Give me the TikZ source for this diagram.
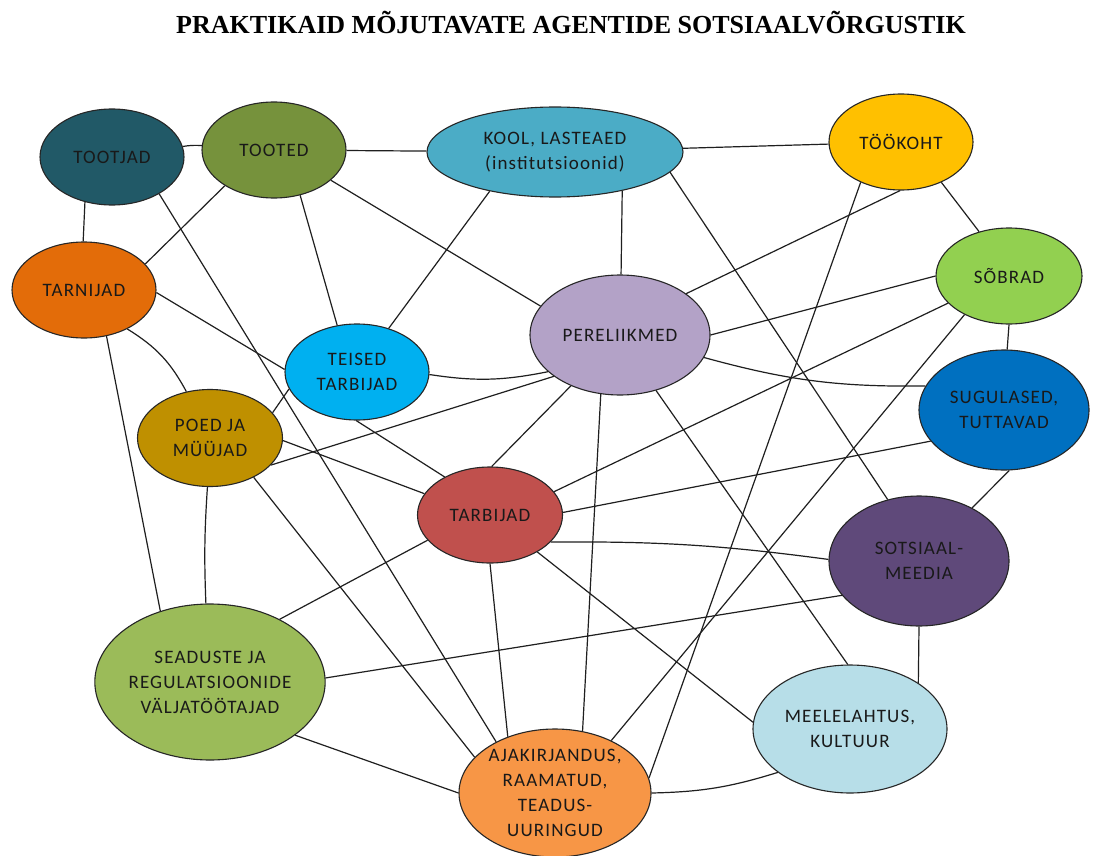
\documentclass[tikz,border=0pt]{standalone}
\usepackage{fontspec}
\setmainfont{Liberation Serif}
\newfontfamily\nodefont[LetterSpace=6]{Carlito}
\usetikzlibrary{shapes.geometric}
\definecolor{cTootjad}{HTML}{215967}
\definecolor{cTooted}{HTML}{76923C}
\definecolor{cKool}{HTML}{4BACC6}
\definecolor{cTook}{HTML}{FFC000}
\definecolor{cTarn}{HTML}{E36C09}
\definecolor{cSob}{HTML}{92D050}
\definecolor{cPere}{HTML}{B3A2C7}
\definecolor{cTeised}{HTML}{00B0F0}
\definecolor{cSug}{HTML}{0070C0}
\definecolor{cPoed}{HTML}{BF9000}
\definecolor{cTarb}{HTML}{C0504D}
\definecolor{cSots}{HTML}{5F497A}
\definecolor{cSead}{HTML}{9BBB59}
\definecolor{cMeel}{HTML}{B7DEE8}
\definecolor{cAjak}{HTML}{F79646}
\pgfdeclarelayer{bg}
\pgfsetlayers{bg,main}
\begin{document}
\begin{tikzpicture}[x=1pt,y=-1pt,
  agent/.style={ellipse, draw=black!85, line width=1.1pt, inner sep=0pt, align=center,
    font=\nodefont\fontsize{19}{25}\selectfont, text=black!90},
  link/.style={draw=black!88, line width=1.2pt}]
\useasboundingbox (0,0) rectangle (1100,856);
\node[font=\bfseries\fontsize{26}{30}\selectfont] (title) at (571,23) {PRAKTIKAID MÕJUTAVATE AGENTIDE SOTSIAALVÕRGUSTIK};
\node[agent, fill=cTootjad, minimum width=144pt, minimum height=96pt] (tootjad) at (112,157) {TOOTJAD};
\node[agent, fill=cTooted, minimum width=144pt, minimum height=96pt] (tooted) at (274,150) {TOOTED};
\node[agent, fill=cKool, minimum width=256pt, minimum height=90pt] (kool) at (555,152) {KOOL, LASTEAED\\(institutsioonid)};
\node[agent, fill=cTook, minimum width=144pt, minimum height=96pt] (tookoht) at (901,142) {TÖÖKOHT};
\node[agent, fill=cTarn, minimum width=144pt, minimum height=96pt] (tarn) at (84,290) {TARNIJAD};
\node[agent, fill=cSob, minimum width=146pt, minimum height=96pt] (sobrad) at (1009,276) {SÕBRAD};
\node[agent, fill=cPere, minimum width=180pt, minimum height=120pt] (pere) at (620,335) {PERELIIKMED};
\node[agent, fill=cTeised, minimum width=144pt, minimum height=96pt] (teised) at (357,372) {TEISED\\TARBIJAD};
\node[agent, fill=cSug, minimum width=170pt, minimum height=120pt] (sug) at (1004,410) {SUGULASED,\\TUTTAVAD};
\node[agent, fill=cPoed, minimum width=145pt, minimum height=97pt] (poed) at (210,438) {POED JA\\MÜÜJAD};
\node[agent, fill=cTarb, minimum width=145pt, minimum height=96pt] (tarb) at (490,515) {TARBIJAD};
\node[agent, fill=cSots, minimum width=180pt, minimum height=130pt] (sots) at (919,561) {SOTSIAAL-\\MEEDIA};
\node[agent, fill=cSead, minimum width=230pt, minimum height=156pt] (sead) at (210,682) {SEADUSTE JA\\REGULATSIOONIDE\\VÄLJATÖÖTAJAD};
\node[agent, fill=cMeel, minimum width=194pt, minimum height=128pt] (meel) at (850,729) {MEELELAHTUS,\\KULTUUR};
\node[agent, fill=cAjak, minimum width=192pt, minimum height=128pt] (ajak) at (555,793) {AJAKIRJANDUS,\\RAAMATUD,\\TEADUS-\\UURINGUD};
\begin{pgfonlayer}{bg}
\fill[white] (0,0) rectangle (1100,856);
\draw[link] (tootjad) to[bend left=6] (tooted);
\draw[link] (tootjad.239) -- (tarn.91);
\draw[link] (tootjad.-38) -- (ajak.139);
\draw[link] (tooted) -- (kool);
\draw[link] (tooted.216) -- (tarn.23);
\draw[link] (tooted.-60) -- (teised.113);
\draw[link] (tooted.-28) -- (pere.160);
\draw[link] (kool) -- (tookoht);
\draw[link] (kool.211) -- (teised.54);
\draw[link] (kool.-30) -- (pere.89);
\draw[link] (kool.-10) -- (sots.117);
\draw[link] (tookoht.-45) -- (sobrad.124);
\draw[link] (tookoht.269) -- (pere.32);
\draw[link] (tookoht.225) -- (ajak.9);
\draw[link] (sobrad.180) -- (pere.0);
\draw[link] (sobrad.270) -- (sug.87);
\draw[link] (sobrad.204) -- (tarb.20);
\draw[link] (sobrad.221) -- (ajak.43);
\draw[link] (teised.-2) to[bend right=10] (pere.207);
\draw[link] (pere.-15) to[bend right=8] (sug.163);
\draw[link] (pere.212) -- (poed.-24);
\draw[link] (pere.226) -- (tarb.88);
\draw[link] (pere.252) -- (ajak.66);
\draw[link] (pere.-57) -- (meel.92);
\draw[link] (tarn.-2) -- (teised.178);
\draw[link] (tarn.-42) to[bend left=15] (poed.117);
\draw[link] (tarn.-64) -- (sead.125);
\draw[link] (poed.22) -- (teised.194);
\draw[link] (poed.-2) -- (tarb.162);
\draw[link] (poed) to[bend right=3] (sead);
\draw[link] (poed.-42) -- (ajak.156);
\draw[link] (teised.269) -- (tarb.140);
\draw[link] (tarb.2) -- (sug.203);
\draw[link] (tarb.-24) to[bend left=4] (sots.179);
\draw[link] (tarb.202) -- (sead.42);
\draw[link] (tarb.270) -- (ajak.130);
\draw[link] (tarb.-38) -- (meel.176);
\draw[link] (sug.275) -- (sots.45);
\draw[link] (sots.204) -- (sead.2);
\draw[link] (sots.270) -- (meel.34);
\draw[link] (sead.-32) -- (ajak.180);
\draw[link] (ajak.0) to[bend right=8] (meel.211);
\end{pgfonlayer}
\end{tikzpicture}
\end{document}
